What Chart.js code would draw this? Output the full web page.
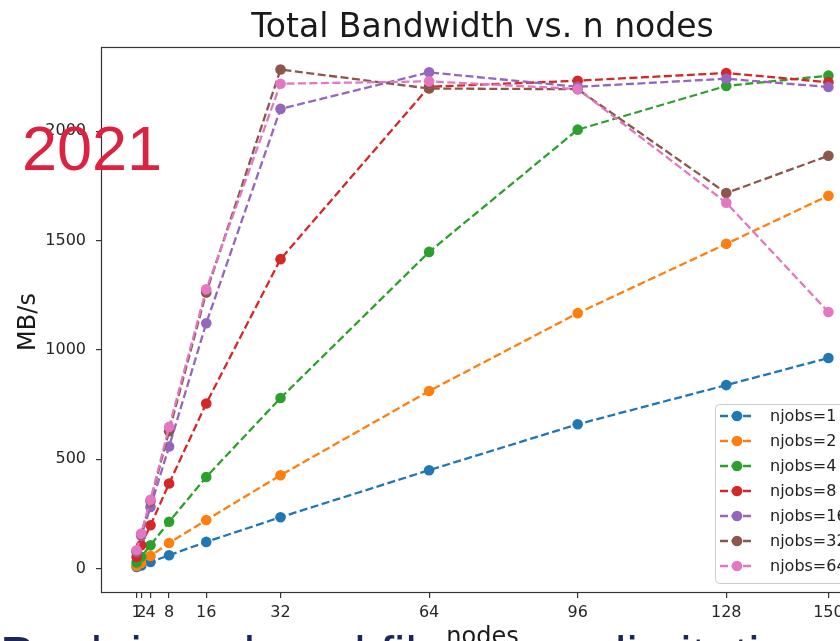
<!DOCTYPE html>
<html><head><meta charset="utf-8">
<script src="https://cdn.jsdelivr.net/npm/chart.js@4"></script>
<style>
html,body{margin:0;padding:0;overflow:hidden;width:840px;height:641px;background:#fff;}
#wrap{position:absolute;left:0;top:0;width:900px;height:680px;}
#yr{position:absolute;left:22px;top:117px;font-family:"Liberation Sans",Arial,sans-serif;font-size:63px;line-height:1;color:#db2341;white-space:nowrap;}
#note{position:absolute;left:0;top:630px;font-family:"Liberation Sans",Arial,sans-serif;font-size:51px;line-height:1;color:#1c2659;white-space:nowrap;}
</style></head>
<body>
<div id="wrap"><canvas id="c" width="900" height="680"></canvas></div>
<div id="yr">2021</div>
<div id="note">Peak is reduced file server limitation</div>
<script>
const nodes = [1, 2, 4, 8, 16, 32, 64, 96, 128, 150];
const seriesLabels = ["njobs=1","njobs=2","njobs=4","njobs=8","njobs=16","njobs=32","njobs=64"];
const bw1  = [7, 14, 30, 61, 122, 235, 450, 660, 839, 963];
const bw2  = [12, 26, 58, 117, 222, 427, 812, 1168, 1485, 1705];
const bw4  = [28, 54, 107, 214, 419, 780, 1448, 2007, 2207, 2254];
const bw8  = [53, 107, 198, 389, 755, 1415, 2203, 2231, 2266, 2224];
const bw16 = [76, 150, 282, 558, 1122, 2102, 2269, 2203, 2240, 2202];
const bw32 = [79, 157, 308, 628, 1262, 2282, 2195, 2192, 1717, 1888];
const bw64 = [84, 160, 315, 648, 1277, 2217, 2228, 2193, 1673, 1173];
const yTicks = [0, 500, 1000, 1500, 2000];
const colors = ["#1f77b4","#ff7f0e","#2ca02c","#d62728","#9467bd","#8c564b","#e377c2"];
const allSeries = [bw1, bw2, bw4, bw8, bw16, bw32, bw64];

const FONT = '"DejaVu Sans", sans-serif';
const DASH = [8, 3.5];

const datasets = allSeries.map((arr, i) => ({
  label: seriesLabels[i],
  data: nodes.map((n, k) => ({x: n, y: arr[k]})),
  borderColor: colors[i],
  backgroundColor: colors[i],
  borderWidth: 2.3,
  borderDash: DASH,
  pointRadius: 5.3,
  pointBorderWidth: 0,
  pointBackgroundColor: colors[i],
  tension: 0,
  fill: false,
  order: allSeries.length - 1 - i
}));

const deco = {
  id: 'deco',
  afterDraw(chart) {
    const ctx = chart.ctx, ca = chart.chartArea;
    ctx.save();
    // legend
    const lx = ca.right - 148, ly = ca.bottom - 188, lw = 141, lh = 179;
    ctx.beginPath();
    ctx.roundRect(lx + 0.5, ly + 0.5, lw, lh, 4);
    ctx.fillStyle = 'rgba(255,255,255,0.8)';
    ctx.fill();
    ctx.strokeStyle = '#cccccc';
    ctx.lineWidth = 1;
    ctx.stroke();
    chart.data.datasets.forEach((ds, i) => {
      const y = ly + 12 + i * 25;
      ctx.beginPath();
      ctx.setLineDash(DASH);
      ctx.strokeStyle = ds.borderColor;
      ctx.lineWidth = 2.3;
      ctx.moveTo(lx + 5, y);
      ctx.lineTo(lx + 38, y);
      ctx.stroke();
      ctx.setLineDash([]);
      ctx.beginPath();
      ctx.arc(lx + 22, y, 5.3, 0, Math.PI * 2);
      ctx.fillStyle = ds.borderColor;
      ctx.fill();
      ctx.fillStyle = '#222';
      ctx.font = '16px ' + FONT;
      ctx.textAlign = 'left';
      ctx.textBaseline = 'middle';
      ctx.fillText(ds.label, lx + 55, y + 1);
    });
    // frame
    ctx.strokeStyle = '#333';
    ctx.lineWidth = 1.2;
    ctx.strokeRect(ca.left - 0.5, ca.top + 0.5, ca.right - ca.left, ca.bottom - ca.top);
    // title
    ctx.fillStyle = '#1a1a1a';
    ctx.font = '33px ' + FONT;
    ctx.textAlign = 'center';
    ctx.textBaseline = 'alphabetic';
    ctx.fillText('Total Bandwidth vs. n nodes', (ca.left + ca.right) / 2, 37);
    // axis titles
    ctx.font = '24px ' + FONT;
    ctx.fillText('nodes', (ca.left + ca.right) / 2, 644);
    ctx.translate(35, 322);
    ctx.rotate(-Math.PI / 2);
    ctx.fillText('MB/s', 0, 0);
    ctx.restore();
  }
};

new Chart(document.getElementById('c'), {
  type: 'line',
  data: { datasets },
  options: {
    responsive: false,
    animation: false,
    devicePixelRatio: 1,
    layout: { padding: { left: 0, top: 47, right: 37, bottom: 0 } },
    plugins: { legend: { display: false }, title: { display: false }, tooltip: { enabled: false } },
    scales: {
      x: {
        type: 'linear',
        min: -6.45, max: 157.45,
        afterBuildTicks: s => { s.ticks = nodes.map(v => ({ value: v })); },
        afterFit: s => { s.height = 88; },
        grid: { drawOnChartArea: false, drawTicks: true, tickLength: 6, color: '#333', lineWidth: 1.2 },
        border: { display: false },
        ticks: { autoSkip: false, maxRotation: 0, minRotation: 0, padding: 5, color: '#262626',
                 font: { family: FONT, size: 16 }, callback: v => String(v) }
      },
      y: {
        type: 'linear',
        min: -107, max: 2385,
        afterBuildTicks: s => { s.ticks = yTicks.map(v => ({ value: v })); },
        afterFit: s => { s.width = 102; },
        grid: { drawOnChartArea: false, drawTicks: true, tickLength: 6, color: '#333', lineWidth: 1.2 },
        border: { display: false },
        ticks: { padding: 10, color: '#262626', font: { family: FONT, size: 16 }, callback: v => String(v) }
      }
    }
  },
  plugins: [deco]
});
</script>
</body></html>
